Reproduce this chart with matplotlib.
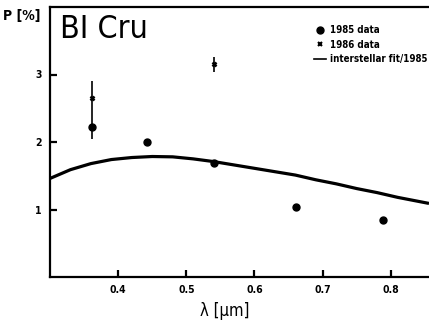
import matplotlib
matplotlib.use("Agg")
from matplotlib import pyplot as plt
from matplotlib.lines import Line2D

plt.rcParams['font.family'] = ['DejaVu Sans']
plt.rcParams['font.stretch'] = 'condensed'
plt.rcParams['font.weight'] = 'bold'

# 1985 data
wl_85 = [0.362, 0.442, 0.540, 0.661, 0.789]
p_85 = [2.22, 2.00, 1.69, 1.03, 0.84]
err_85 = [0.17, 0.04, 0.03, 0.03, 0.02]

# 1986 data
wl_86 = [0.362, 0.541]
p_86 = [2.65, 3.15]
err_86 = [0.26, 0.11]

# interstellar fit
fit_wl = [0.30, 0.33, 0.36, 0.39, 0.42, 0.45, 0.48, 0.51, 0.54, 0.57,
          0.60, 0.63, 0.66, 0.69, 0.72, 0.75, 0.78, 0.81, 0.856]
fit_p = [1.46, 1.59, 1.68, 1.74, 1.77, 1.785, 1.78, 1.75, 1.71, 1.66,
         1.61, 1.56, 1.51, 1.44, 1.38, 1.31, 1.25, 1.18, 1.09]

fig = plt.figure(figsize=(4.29, 3.24), dpi=100)
ax = fig.add_axes([50/429, 47/324, 379/429, 270/324])

ax.plot(fit_wl, fit_p, color='black', lw=2.3, solid_capstyle='butt')
ax.errorbar(wl_85, p_85, yerr=err_85, fmt='o', ms=5, color='black',
            elinewidth=1.2, capsize=0)
ax.errorbar(wl_86, p_86, yerr=err_86, fmt='x', ms=3.5, mew=1.8, color='black',
            elinewidth=1.2, capsize=0)

ax.set_xlim(0.3, 0.856)
ax.set_ylim(0, 4)
ax.set_xticks([0.4, 0.5, 0.6, 0.7, 0.8])
ax.set_xticklabels(['0.4', '0.5', '0.6', '0.7', '0.8'])
ax.set_yticks([1, 2, 3])
ax.tick_params(direction='in', length=5, width=1.6, labelsize=7.5, pad=6)
for s in ['left', 'bottom', 'top']:
    ax.spines[s].set_linewidth(1.6)
ax.spines['right'].set_visible(False)

ax.text(0.027, 0.975, 'BI Cru', transform=ax.transAxes, fontsize=23,
        fontweight='normal', va='top', ha='left')
fig.text(3/429, 1 - 16/324, 'P [%]', fontsize=10, va='center', ha='left')
fig.text(225/429, 1 - 311/324, 'λ [μm]', fontsize=12, fontweight='normal',
         va='center', ha='center')

handles = [Line2D([], [], marker='o', ls='none', color='black', ms=5),
           Line2D([], [], marker='x', ls='none', color='black', ms=3, mew=1.5),
           Line2D([], [], color='black', lw=1.2)]
labels = ['1985 data', '1986 data', 'interstellar fit/1985']
ax.legend(handles, labels, loc='upper right', bbox_to_anchor=(1.02, 0.965),
          frameon=False, fontsize=7, handlelength=1.3, handletextpad=0.4,
          labelspacing=0.45, markerfirst=True)

fig.savefig('out.png', dpi=100)
